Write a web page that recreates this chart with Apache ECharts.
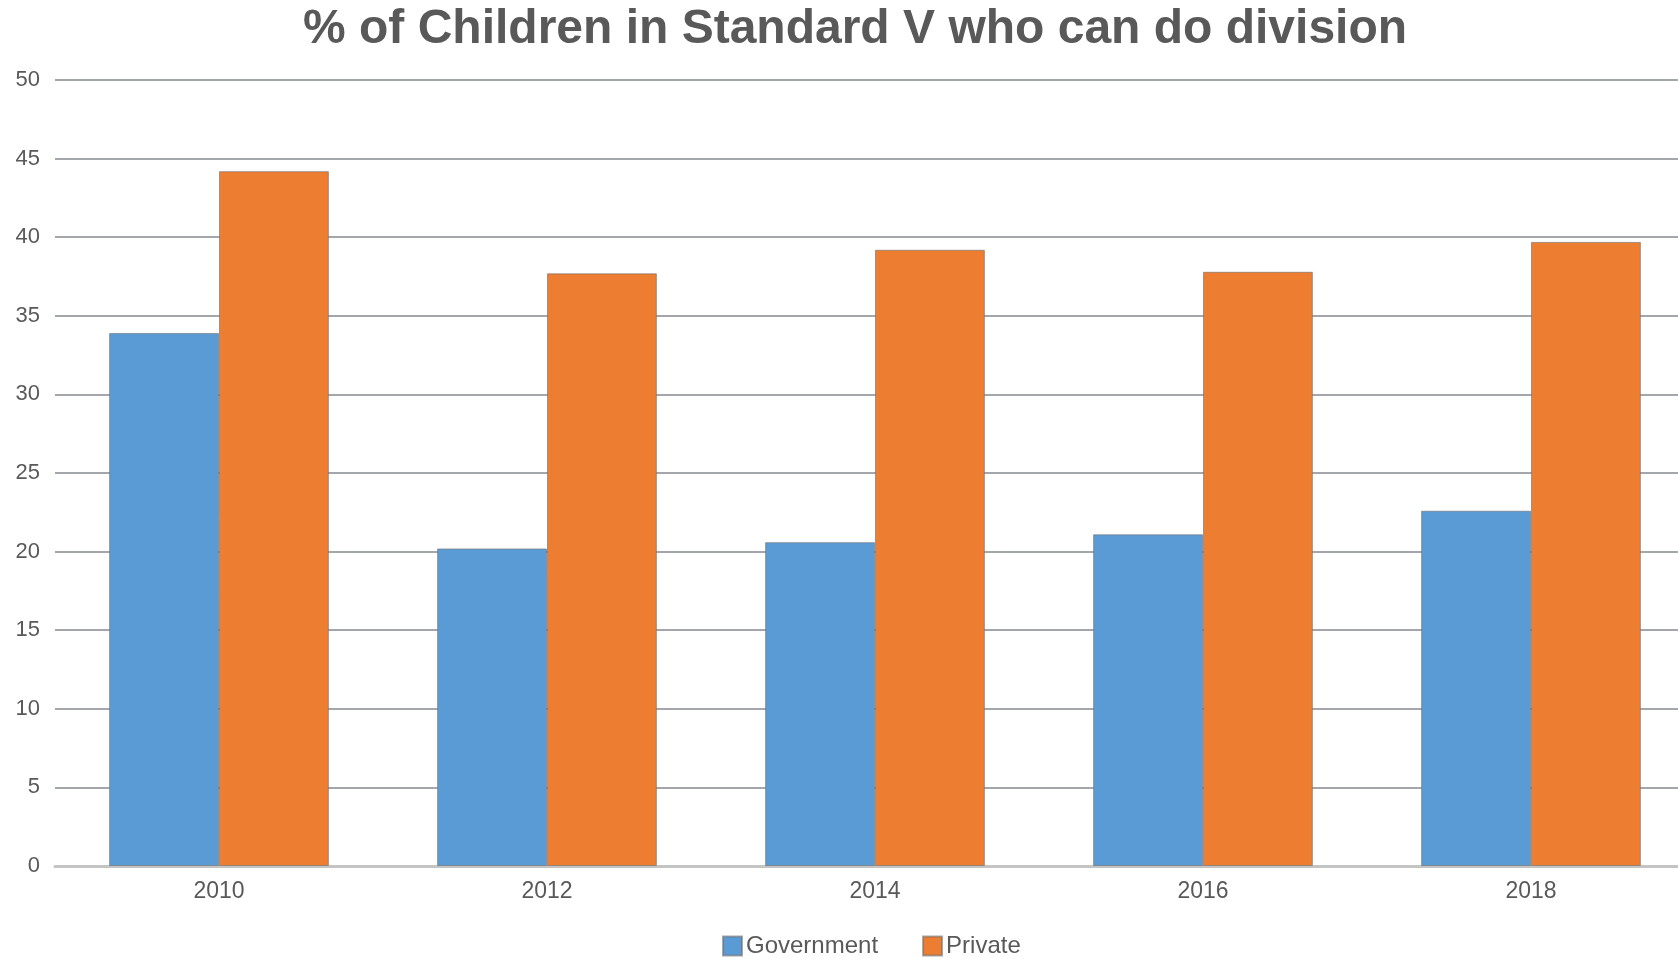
<!DOCTYPE html>
<html>
<head>
<meta charset="utf-8">
<script src="https://cdn.jsdelivr.net/npm/echarts@6/dist/echarts.min.js"></script>
<style>
html,body{margin:0;padding:0;background:#fff;}
#chart{width:1678px;height:959px;}
</style>
</head>
<body>
<div id="chart"></div>
<script>
const categories = ['2010', '2012', '2014', '2016', '2018'];
const government = [33.9, 20.2, 20.6, 21.1, 22.6];
const privateVals = [44.2, 37.7, 39.2, 37.8, 39.7];
const yTicks = [0, 5, 10, 15, 20, 25, 30, 35, 40, 45, 50];

const chart = echarts.init(document.getElementById('chart'));
chart.setOption({
  backgroundColor: '#ffffff',
  animation: false,
  title: {
    text: '% of Children in Standard V who can do division',
    left: 298,
    top: 1,
    textStyle: { fontFamily: 'Liberation Sans, Arial, sans-serif', fontWeight: 'bold', fontSize: 48, color: '#595959' }
  },
  legend: {
    top: 934,
    left: 722,
    itemWidth: 19,
    itemHeight: 19,
    itemGap: 44,
    icon: 'rect',
    padding: 0,
    textStyle: { fontFamily: 'Liberation Sans, Arial, sans-serif', fontSize: 24, color: '#595959', padding: [0, 0, 0, -1] },
    data: ['Government', 'Private']
  },
  grid: { left: 55, top: 80, right: -17, height: 786, containLabel: false, outerBoundsMode: 'none' },
  xAxis: {
    type: 'category',
    data: categories,
    axisTick: { show: false },
    axisLine: { show: true, lineStyle: { color: '#c4c4c4', width: 3 } },
    axisLabel: { fontFamily: 'Liberation Sans, Arial, sans-serif', fontSize: 23, color: '#595959', margin: 14 }
  },
  yAxis: {
    type: 'value',
    min: yTicks[0],
    max: yTicks[yTicks.length - 1],
    interval: 5,
    axisLine: { show: false },
    axisTick: { show: false },
    axisLabel: { fontFamily: 'Liberation Sans, Arial, sans-serif', fontSize: 22, color: '#595959', margin: 15 },
    splitLine: { lineStyle: { color: '#a3a7ab', width: 2 } }
  },
  series: [
    {
      name: 'Government',
      type: 'bar',
      data: government,
      barGap: '0%',
      barCategoryGap: '33%',
      itemStyle: { color: '#5B9BD5', borderColor: 'rgba(110,110,110,0.6)', borderWidth: 1 }
    },
    {
      name: 'Private',
      type: 'bar',
      data: privateVals,
      itemStyle: { color: '#ED7D31', borderColor: 'rgba(110,110,110,0.6)', borderWidth: 1 }
    }
  ]
});
</script>
</body>
</html>
